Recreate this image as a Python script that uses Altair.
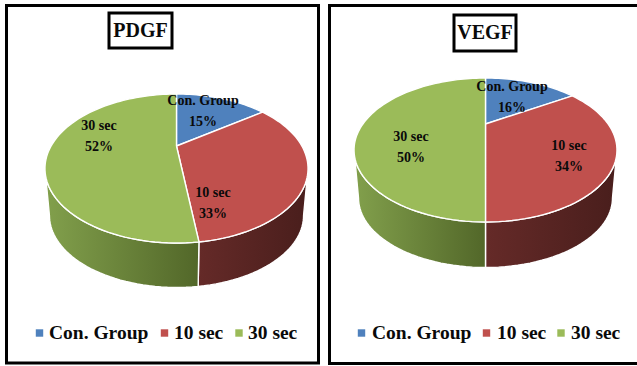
import math
import altair as alt
import pandas as pd

# Share of each group per growth factor, in percent
SERIES = ["Con. Group", "10 sec", "30 sec"]
PDGF_SHARES = [15, 33, 52]
VEGF_SHARES = [16, 34, 50]
PANEL_TITLES = ["PDGF", "VEGF"]

COLORS = {"Con. Group": "#4f81bd", "10 sec": "#c0504d", "30 sec": "#9bbb59"}
WALL_GRADIENTS = {
    "10 sec": ("#652a28", "#491e1c"),
    "30 sec": ("#82a04c", "#526729"),
}
FONT = "Liberation Serif"

# Perspective pie geometry, one entry per panel
PIES = [
    dict(cx=176.5, ay=146, sx=125.4, sy=67.7, k=0.302, cy=168.5, rim=0.966, drop=47),
    dict(cx=485.5, ay=124, sx=122.6, sy=62.6, k=0.361, cy=150, rim=0.966, drop=48),
]

# Layout of frames, title boxes, slice labels and legends.
# The second frame runs off the right-hand edge of the page.
FRAMES = [(6.5, 318.5, 5.5, 363), (329.5, 642, 5.5, 363.5)]
TITLE_BOXES = [(109, 172, 13, 48), (454, 516, 15, 51)]
TITLE_POS = [(140.5, 31), (485, 33)]
LABEL_POS = [
    {"Con. Group": (203, 101), "10 sec": (213, 193), "30 sec": (99, 126)},
    {"Con. Group": (512, 87), "10 sec": (569, 146), "30 sec": (411, 137)},
]
LABEL_GAP = 21
LEGEND_Y = 333
LEGEND_POS = [
    {"Con. Group": (39.5, 49), "10 sec": (164.5, 174), "30 sec": (239, 248)},
    {"Con. Group": (361.5, 372), "10 sec": (486.5, 497), "30 sec": (561, 571)},
]

X = alt.Scale(domain=[0, 637], range=[0, 637], nice=False, zero=False)
Y = alt.Scale(domain=[0, 366], range=[0, 366], nice=False, zero=False)


def rim(p, deg):
    """Project an angle on the pie's circular edge into the tilted view."""
    t = math.radians(deg)
    u, v = math.sin(t), -math.cos(t)
    w = 1 - p["k"] * v
    return p["cx"] + p["sx"] * u / w, p["ay"] + p["sy"] * v / w


def lower(p, pt):
    """The matching point on the bottom edge of the pie's wall."""
    x, y = pt
    return (
        p["cx"] + (x - p["cx"]) * p["rim"],
        p["cy"] + p["drop"] + (y - p["cy"]) * p["rim"],
    )


def sweep(a, b):
    n = max(2, int(abs(b - a) / 2))
    return [a + (b - a) * i / n for i in range(n + 1)]


def outline(points):
    return pd.DataFrame(
        [{"x": x, "y": y, "i": i} for i, (x, y) in enumerate(points)]
    )


def shape(points, fill):
    return (
        alt.Chart(outline(points))
        .mark_line(fill=fill, stroke="#ffffff", strokeWidth=1.4, interpolate="linear")
        .encode(
            x=alt.X("x:Q", scale=X, axis=None),
            y=alt.Y("y:Q", scale=Y, axis=None),
            order=alt.Order("i:Q"),
        )
    )


def text_layer(rows, size):
    return (
        alt.Chart(pd.DataFrame(rows))
        .mark_text(font=FONT, fontWeight="bold", fontSize=size, color="#0a0a0a",
                   align=rows[0].get("align", "center"), baseline="middle")
        .encode(
            x=alt.X("x:Q", scale=X, axis=None),
            y=alt.Y("y:Q", scale=Y, axis=None),
            text="t:N",
        )
    )


layers = []

for frame in FRAMES + TITLE_BOXES:
    layers.append(
        alt.Chart(pd.DataFrame([dict(zip(["x", "x2", "y", "y2"], frame))]))
        .mark_rect(fill="#ffffff", stroke="#000000", strokeWidth=3)
        .encode(
            x=alt.X("x:Q", scale=X, axis=None),
            x2="x2:Q",
            y=alt.Y("y:Q", scale=Y, axis=None),
            y2="y2:Q",
        )
    )

for n, shares in enumerate([PDGF_SHARES, VEGF_SHARES]):
    p = PIES[n]
    bounds = [0]
    for s in shares:
        bounds.append(bounds[-1] + s * 3.6)

    # Side wall first, so the top face sits over it
    tangent = math.degrees(math.acos(-p["k"]))
    for name, a, b in zip(SERIES, bounds, bounds[1:]):
        lo, hi = max(a, tangent), min(b, 360 - tangent)
        if name not in WALL_GRADIENTS or lo >= hi:
            continue
        top = [rim(p, d) for d in sweep(lo, hi)]
        bottom = [lower(p, q) for q in reversed(top)]
        c0, c1 = WALL_GRADIENTS[name]
        grad = alt.Gradient(
            gradient="linear", x1=0, x2=1, y1=0, y2=0,
            stops=[alt.GradientStop(color=c0, offset=0), alt.GradientStop(color=c1, offset=1)],
        )
        layers.append(shape(top + bottom + top[:1], grad))

    # Top face of the pie
    apex = (p["cx"], p["ay"])
    for name, a, b in zip(SERIES, bounds, bounds[1:]):
        arc = [rim(p, d) for d in sweep(a, b)]
        layers.append(shape([apex] + arc + [apex], COLORS[name]))

    # Slice labels
    rows = []
    for name, s in zip(SERIES, shares):
        lx, ly = LABEL_POS[n][name]
        rows.append({"x": lx, "y": ly, "t": name})
        rows.append({"x": lx, "y": ly + LABEL_GAP, "t": f"{s}%"})
    layers.append(text_layer(rows, 14))

    # Panel title
    layers.append(text_layer([{"x": TITLE_POS[n][0], "y": TITLE_POS[n][1], "t": PANEL_TITLES[n]}], 20))

    # Legend
    for name in SERIES:
        kx, tx = LEGEND_POS[n][name]
        layers.append(
            alt.Chart(pd.DataFrame([{"x": kx, "y": LEGEND_Y}]))
            .mark_square(size=55, color=COLORS[name], opacity=1)
            .encode(
                x=alt.X("x:Q", scale=X, axis=None),
                y=alt.Y("y:Q", scale=Y, axis=None),
            )
        )
        layers.append(text_layer([{"x": tx, "y": LEGEND_Y, "t": name, "align": "left"}], 19.5))

chart = (
    alt.layer(*layers)
    .properties(width=637, height=366, padding=0, autosize=alt.AutoSizeParams(type="none"),
                background="#ffffff")
    .configure_view(stroke=None)
)

chart.save("out.html", embed_options={"renderer": "svg", "actions": False})
